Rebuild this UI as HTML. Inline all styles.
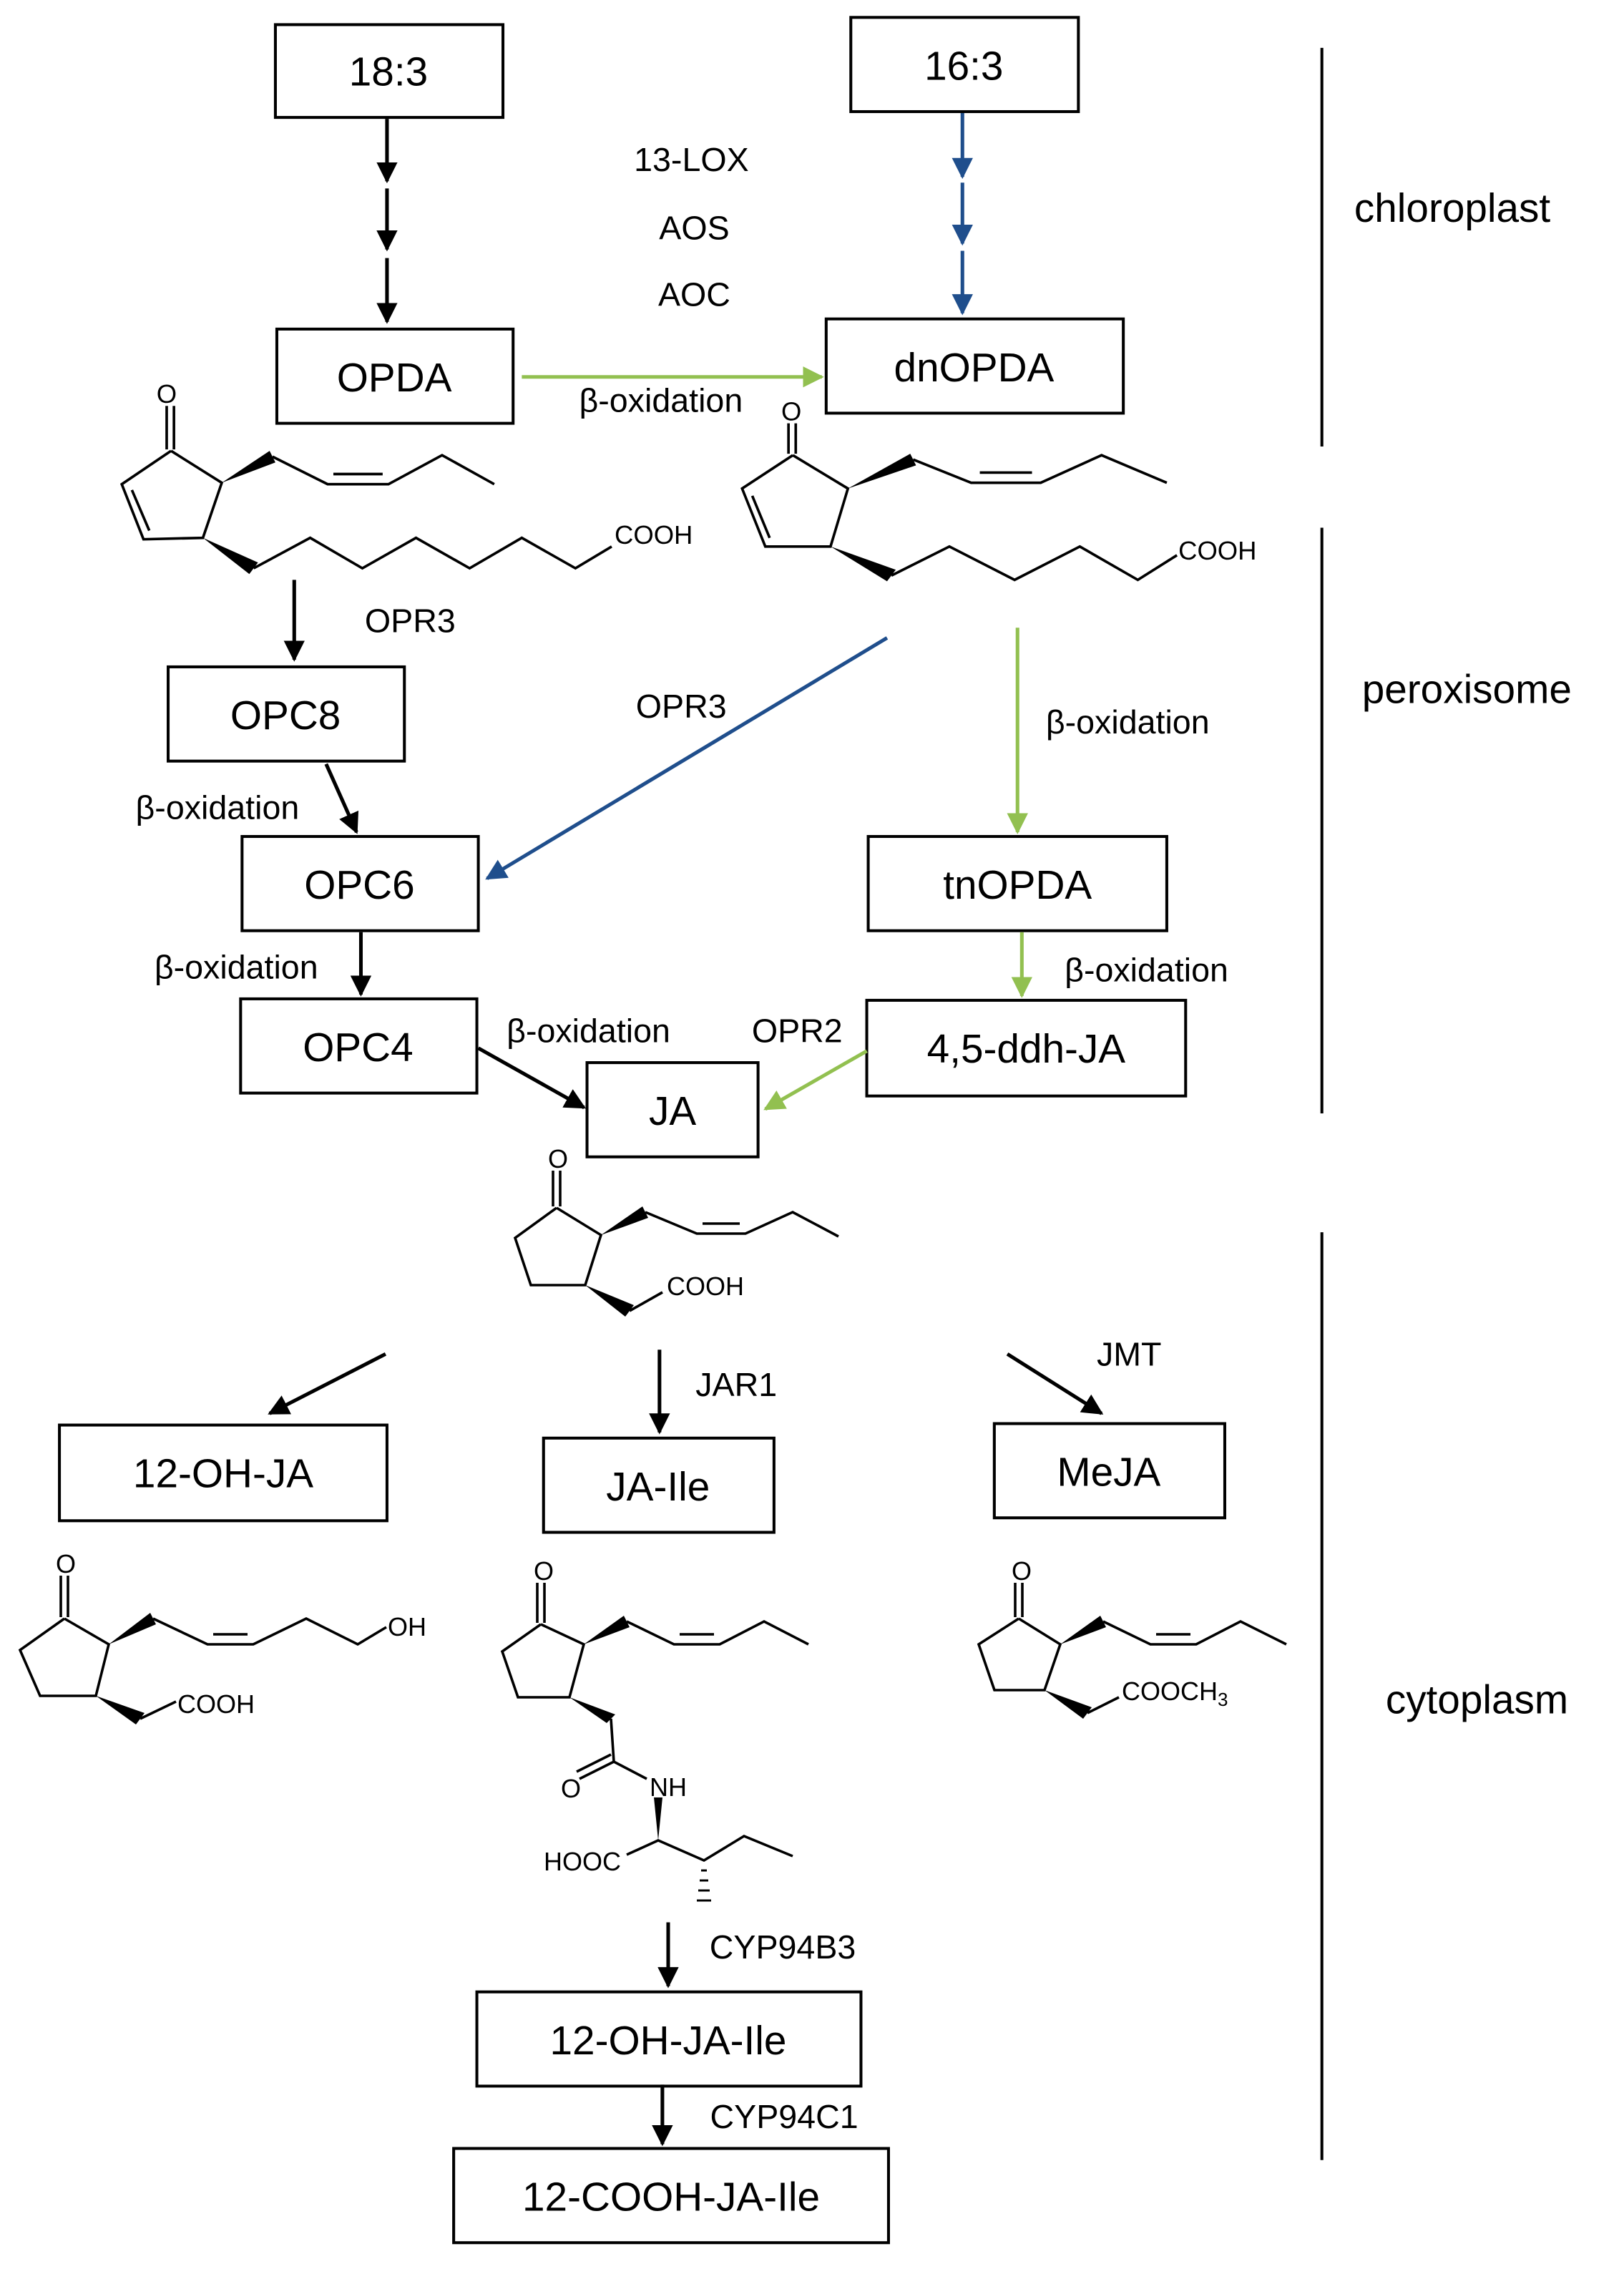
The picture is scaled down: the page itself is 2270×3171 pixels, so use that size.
<!DOCTYPE html>
<html><head><meta charset="utf-8"><style>
html,body{margin:0;padding:0;background:#fff}
svg{display:block}
text{font-family:"Liberation Sans","DejaVu Sans",sans-serif;fill:#000}
.bx{fill:#fff;stroke:#000;stroke-width:2}
.bt{font-size:28px;text-anchor:middle}
.lb{font-size:23px;text-anchor:middle}
.rg{font-size:28px;text-anchor:middle}
.ch{fill:none;stroke:#000;stroke-width:1.8;stroke-linejoin:miter}
.ct{font-size:18px}
.k{stroke:#000;stroke-width:2.5;fill:none}
.b{stroke:#1f4e8c;stroke-width:2.5;fill:none}
.g{stroke:#92c050;stroke-width:2.5;fill:none}
</style></head><body>
<svg width="2270" height="3171" viewBox="0 0 1135 1585.5" xmlns="http://www.w3.org/2000/svg">
<defs>
<marker id="ak" viewBox="0 0 10 10" refX="9" refY="5" markerWidth="5.8" markerHeight="5.8" orient="auto" markerUnits="strokeWidth"><path d="M0,0L10,5L0,10z" fill="#000"/></marker>
<marker id="ab" viewBox="0 0 10 10" refX="9" refY="5" markerWidth="5.8" markerHeight="5.8" orient="auto" markerUnits="strokeWidth"><path d="M0,0L10,5L0,10z" fill="#1f4e8c"/></marker>
<marker id="ag" viewBox="0 0 10 10" refX="9" refY="5" markerWidth="5.8" markerHeight="5.8" orient="auto" markerUnits="strokeWidth"><path d="M0,0L10,5L0,10z" fill="#92c050"/></marker>
</defs>

<g transform="scale(1.013)">
<line x1="912" y1="33" x2="912" y2="308" stroke="#000" stroke-width="2"/>
<line x1="912" y1="364" x2="912" y2="768" stroke="#000" stroke-width="2"/>
<line x1="912" y1="850" x2="912" y2="1490" stroke="#000" stroke-width="2"/>
<text class="rg" x="1002" y="153">chloroplast</text>
<text class="rg" x="1012" y="485">peroxisome</text>
<text class="rg" x="1019" y="1182">cytoplasm</text>

<rect class="bx" x="190" y="17" width="157" height="64"/><text class="bt" x="268" y="59">18:3</text>
<rect class="bx" x="587" y="12" width="157" height="65"/><text class="bt" x="665" y="55">16:3</text>
<rect class="bx" x="191" y="227" width="163" height="65"/><text class="bt" x="272" y="270">OPDA</text>
<rect class="bx" x="570" y="220" width="205" height="65"/><text class="bt" x="672" y="263">dnOPDA</text>
<rect class="bx" x="116" y="460" width="163" height="65"/><text class="bt" x="197" y="503">OPC8</text>
<rect class="bx" x="167" y="577" width="163" height="65"/><text class="bt" x="248" y="620">OPC6</text>
<rect class="bx" x="599" y="577" width="206" height="65"/><text class="bt" x="702" y="620">tnOPDA</text>
<rect class="bx" x="166" y="689" width="163" height="65"/><text class="bt" x="247" y="732">OPC4</text>
<rect class="bx" x="598" y="690" width="220" height="66"/><text class="bt" x="708" y="733">4,5-ddh-JA</text>
<rect class="bx" x="405" y="733" width="118" height="65"/><text class="bt" x="464" y="776">JA</text>
<rect class="bx" x="41" y="983" width="226" height="66"/><text class="bt" x="154" y="1026">12-OH-JA</text>
<rect class="bx" x="375" y="992" width="159" height="65"/><text class="bt" x="454" y="1035">JA-Ile</text>
<rect class="bx" x="686" y="982" width="159" height="65"/><text class="bt" x="765" y="1025">MeJA</text>
<rect class="bx" x="329" y="1374" width="265" height="65"/><text class="bt" x="461" y="1417">12-OH-JA-Ile</text>
<rect class="bx" x="313" y="1482" width="300" height="65"/><text class="bt" x="463" y="1525">12-COOH-JA-Ile</text>

<line class="k" x1="267" y1="82" x2="267" y2="125" marker-end="url(#ak)"/>
<line class="k" x1="267" y1="130" x2="267" y2="172" marker-end="url(#ak)"/>
<line class="k" x1="267" y1="178" x2="267" y2="222" marker-end="url(#ak)"/>
<line class="b" x1="664" y1="78" x2="664" y2="122" marker-end="url(#ab)"/>
<line class="b" x1="664" y1="126" x2="664" y2="168" marker-end="url(#ab)"/>
<line class="b" x1="664" y1="173" x2="664" y2="216" marker-end="url(#ab)"/>
<text class="lb" x="477" y="118">13-LOX</text>
<text class="lb" x="479" y="165">AOS</text>
<text class="lb" x="479" y="211">AOC</text>
<line class="g" x1="360" y1="260" x2="567" y2="260" marker-end="url(#ag)"/>
<text class="lb" x="456" y="284">β-oxidation</text>

<g class="ch">
<line x1="115" y1="280" x2="115" y2="310"/><line x1="120" y1="280" x2="120" y2="310"/>
<polyline points="118,311 153,333 140,371 99,372 84,334 118,311"/>
<line x1="91" y1="338" x2="103" y2="366"/>
<polyline points="188,315 226,334 268,334 305,314 341,334"/>
<line x1="230" y1="327" x2="264" y2="327"/>
<polyline points="175,392 214,371 250,392 287,371 324,392 360,371 397,392 422,377"/>
</g>
<polygon points="153,333 186,311 190,319" fill="#000"/>
<polygon points="140,371 172,396 178,388" fill="#000"/>
<text class="ct" x="108" y="278">O</text>
<text class="ct" x="424" y="375">COOH</text>

<g class="ch">
<line x1="544" y1="292" x2="544" y2="313"/><line x1="549" y1="292" x2="549" y2="313"/>
<polyline points="547,314 585,337 573,377 528,377 512,337 547,314"/>
<line x1="519" y1="342" x2="531" y2="371"/>
<polyline points="630,317 670,333 718,333 760,314 805,333"/>
<line x1="676" y1="326" x2="712" y2="326"/>
<polyline points="615,397 655,377 700,400 745,377 785,400 812,383"/>
</g>
<polygon points="585,337 628,313 632,321" fill="#000"/>
<polygon points="573,377 612,401 618,393" fill="#000"/>
<text class="ct" x="539" y="290">O</text>
<text class="ct" x="813" y="386">COOH</text>

<line class="k" x1="203" y1="400" x2="203" y2="455" marker-end="url(#ak)"/>
<text class="lb" x="283" y="436">OPR3</text>
<line class="k" x1="225" y1="527" x2="246" y2="574" marker-end="url(#ak)"/>
<text class="lb" x="150" y="565">β-oxidation</text>
<line class="b" x1="612" y1="440" x2="336" y2="606" marker-end="url(#ab)"/>
<text class="lb" x="470" y="495">OPR3</text>
<line class="g" x1="702" y1="433" x2="702" y2="574" marker-end="url(#ag)"/>
<text class="lb" x="778" y="506">β-oxidation</text>
<line class="k" x1="249" y1="643" x2="249" y2="686" marker-end="url(#ak)"/>
<text class="lb" x="163" y="675">β-oxidation</text>
<line class="g" x1="705" y1="643" x2="705" y2="687" marker-end="url(#ag)"/>
<text class="lb" x="791" y="677">β-oxidation</text>
<line class="k" x1="330" y1="723" x2="403" y2="764" marker-end="url(#ak)"/>
<text class="lb" x="406" y="719">β-oxidation</text>
<line class="g" x1="598" y1="725" x2="528" y2="765" marker-end="url(#ag)"/>
<text class="lb" x="550" y="719">OPR2</text>

<line class="k" x1="266" y1="934" x2="186" y2="975" marker-end="url(#ak)"/>
<line class="k" x1="455" y1="931" x2="455" y2="988" marker-end="url(#ak)"/>
<text class="lb" x="508" y="963">JAR1</text>
<line class="k" x1="695" y1="934" x2="760" y2="975" marker-end="url(#ak)"/>
<text class="lb" x="779" y="942">JMT</text>

<line class="k" x1="461" y1="1326" x2="461" y2="1370" marker-end="url(#ak)"/>
<text class="lb" x="540" y="1351">CYP94B3</text>
<line class="k" x1="457" y1="1438" x2="457" y2="1479" marker-end="url(#ak)"/>
<text class="lb" x="541" y="1468">CYP94C1</text>
</g>

<g class="ch">
<line x1="386.5" y1="818" x2="386.5" y2="843"/><line x1="391.5" y1="818" x2="391.5" y2="843"/>
<polyline points="389,844 420,863 409,898 371,898 360,865 389,844"/>
<polyline points="451,847 487,862 521,862 554,847 586,864"/>
<line x1="491" y1="855" x2="517" y2="855"/>
<polyline points="440,916 463,903"/>
</g>
<polygon points="420,863 449,843 453,851" fill="#000"/>
<polygon points="409,898 437,920 443,912" fill="#000"/>
<text class="ct" x="383" y="816">O</text>
<text class="ct" x="466" y="905">COOH</text>

<g class="ch">
<line x1="42.5" y1="1101" x2="42.5" y2="1130"/><line x1="47.5" y1="1101" x2="47.5" y2="1130"/>
<polyline points="45,1131 76,1149 67,1185 28,1185 14,1153 45,1131"/>
<polyline points="107,1131 145,1149 177,1149 214,1131 250,1149 270,1137"/>
<line x1="149" y1="1142" x2="173" y2="1142"/>
<polyline points="98,1201 123,1189"/>
</g>
<polygon points="76,1149 105,1127 109,1135" fill="#000"/>
<polygon points="67,1185 95,1205 101,1197" fill="#000"/>
<text class="ct" x="39" y="1099">O</text>
<text class="ct" x="271" y="1143">OH</text>
<text class="ct" x="124" y="1197">COOH</text>

<g class="ch">
<line x1="375.5" y1="1106" x2="375.5" y2="1134"/><line x1="380.5" y1="1106" x2="380.5" y2="1134"/>
<polyline points="378,1135 408,1149 398,1186 362,1186 351,1154 378,1135"/>
<polyline points="438,1133 471,1149 503,1149 534,1133 565,1149"/>
<line x1="475" y1="1142" x2="499" y2="1142"/>
<polyline points="427,1201 429,1231 452,1243"/>
<line x1="429" y1="1231" x2="405" y2="1243"/><line x1="427" y1="1226" x2="403" y2="1238"/>
<polyline points="438,1296 460,1286 492,1300 520,1283 554,1297"/>
</g>
<polygon points="408,1149 436,1129 440,1137" fill="#000"/>
<polygon points="398,1186 424,1204 430,1198" fill="#000"/>
<polygon points="460,1286 457,1256 463,1256" fill="#000"/>
<g stroke="#000" stroke-width="1.5"><line x1="490" y1="1307" x2="494" y2="1307"/><line x1="489" y1="1314" x2="495" y2="1314"/><line x1="488" y1="1321" x2="496" y2="1321"/><line x1="487" y1="1328" x2="497" y2="1328"/></g>
<text class="ct" x="373" y="1104">O</text>
<text class="ct" x="392" y="1256">O</text>
<text class="ct" x="454" y="1255">NH</text>
<text class="ct" x="380" y="1307">HOOC</text>

<g class="ch">
<line x1="709.5" y1="1106" x2="709.5" y2="1130"/><line x1="714.5" y1="1106" x2="714.5" y2="1130"/>
<polyline points="712,1131 741,1149 730,1181 695,1181 684,1149 712,1131"/>
<polyline points="771,1133 804,1149 836,1149 867,1133 899,1149"/>
<line x1="808" y1="1142" x2="832" y2="1142"/>
<polyline points="760,1197 782,1186"/>
</g>
<polygon points="741,1149 769,1129 773,1137" fill="#000"/>
<polygon points="730,1181 757,1201 763,1193" fill="#000"/>
<text class="ct" x="707" y="1104">O</text>
<text class="ct" x="784" y="1188">COOCH<tspan font-size="13" dy="4">3</tspan></text>
</svg>
</body></html>
